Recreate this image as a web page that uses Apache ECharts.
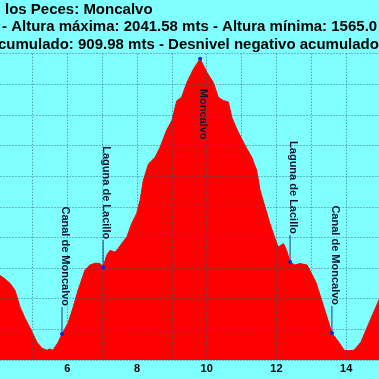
<!DOCTYPE html>
<html>
<head>
<meta charset="utf-8">
<script src="https://cdn.jsdelivr.net/npm/echarts@6/dist/echarts.min.js"></script>
<style>html,body{margin:0;padding:0;background:#80ffff;}#c{width:379px;height:379px;}</style>
</head>
<body>
<div id="c"></div>
<script>
// Title lines (visible portion)
const titleLines = [
  "los Peces: Moncalvo",
  "- Altura máxima: 2041.58 mts - Altura mínima: 1565.0",
  "cumulado: 909.98 mts - Desnivel negativo acumulado"
];
// Profile: distance (km) and altitude (m)
const distKm = [4.0, 4.07, 4.2, 4.36, 4.5, 4.65, 4.79, 4.99, 5.13, 5.28, 5.42, 5.5, 5.59, 5.74, 5.85, 6.02, 6.17, 6.31, 6.51, 6.65, 6.8, 6.94, 7.03, 7.13, 7.23, 7.37, 7.46, 7.56, 7.71, 7.85, 7.99, 8.09, 8.18, 8.33, 8.52, 8.66, 8.85, 9.0, 9.14, 9.28, 9.43, 9.62, 9.81, 10.0, 10.19, 10.33, 10.48, 10.62, 10.72, 10.86, 11.0, 11.15, 11.29, 11.43, 11.53, 11.67, 11.81, 11.96, 12.05, 12.2, 12.29, 12.39, 12.53, 12.67, 12.88, 13.13, 13.36, 13.59, 13.79, 13.94, 14.08, 14.22, 14.42, 14.65, 14.94, 15.0];
const altitude = [1690, 1688, 1683, 1675, 1664, 1636, 1618, 1596, 1579, 1569, 1566, 1568, 1566, 1579, 1592.3, 1610, 1636, 1664, 1697, 1705, 1708, 1707.5, 1701.5, 1721, 1729, 1726, 1732, 1740, 1751, 1773, 1789, 1811, 1843, 1870, 1881, 1897, 1925, 1941, 1973, 1979, 2003, 2025, 2041.58, 2020, 2003, 1979, 1973.5, 1971, 1946, 1927, 1911, 1895, 1881, 1860, 1827, 1800, 1773, 1748, 1734.5, 1740, 1729, 1710, 1705, 1707.5, 1705, 1677, 1636, 1594, 1579, 1566, 1565, 1566, 1579, 1610, 1648, 1656];
// Waypoints
const wpNames = ["Canal de Moncalvo", "Laguna de Lacillo", "Moncalvo", "Laguna de Lacillo", "Canal de Moncalvo"];
const wpKm = [5.85, 7.03, 9.81, 12.39, 13.59];
const wpAlt = [1592.3, 1701.5, 2041.58, 1710, 1594];
// Axis ticks
const xTickLabels = [6, 8, 10, 12, 14];

const maxAlt = Math.max.apply(null, wpAlt);
const chart = echarts.init(document.getElementById('c'), null, {renderer: 'canvas'});
const font = '"Liberation Sans", Arial, sans-serif';

chart.setOption({
  backgroundColor: '#80ffff',
  animation: false,
  grid: {left: -2.5, top: 53.7, width: 383.6, height: 306.3, outerBoundsMode: 'none', containLabel: false},
  xAxis: {
    type: 'value', min: 4, max: 15, interval: 1, z: 5,
    axisLine: {show: false}, axisTick: {show: false},
    axisLabel: {
      margin: 3, color: '#000', fontWeight: 'bold', fontSize: 11, fontFamily: font,
      formatter: v => xTickLabels.indexOf(v) >= 0 ? String(v) : ''
    },
    splitLine: {show: true, lineStyle: {color: '#1a5a8a', type: [1, 2], width: 1, opacity: 0.8}}
  },
  yAxis: {
    type: 'value', min: 1550, max: 2050, interval: 50, z: 5,
    axisLine: {show: false}, axisTick: {show: false}, axisLabel: {show: false},
    splitLine: {show: true, lineStyle: {color: '#1a5a8a', type: [1, 2], width: 1, opacity: 0.8}}
  },
  graphic: titleLines.map((t, i) => ({
    type: 'text', left: [5, 2, -2][i], top: [2, 19.5, 37][i],
    style: {text: t, fill: '#000', font: 'bold 15px ' + font}
  })),
  series: [
    {
      type: 'line', z: 2,
      data: distKm.map((d, i) => [d, altitude[i]]),
      showSymbol: false, smooth: false,
      lineStyle: {color: '#ff0000', width: 1},
      areaStyle: {color: '#ff0000', opacity: 1}
    },
    {
      type: 'custom', z: 10,
      data: wpKm.map((d, i) => [d, wpAlt[i], i]),
      renderItem: function (params, api) {
        const p = api.coord([api.value(0), api.value(1)]);
        const idx = api.value(2);
        const name = wpNames[idx];
        const below = wpAlt[idx] === maxAlt;
        const children = [];
        if (!below) {
          children.push({type: 'line', shape: {x1: p[0], y1: p[1], x2: p[0], y2: p[1] - 27},
            style: {stroke: '#1a3a8a', lineWidth: 1}});
        }
        children.push({type: 'circle', shape: {cx: p[0], cy: p[1], r: 2}, style: {fill: '#2020c0'}});
        children.push({
          type: 'text', x: p[0] + 3, y: below ? p[1] + 30 : p[1] - 28, rotation: -Math.PI / 2,
          style: {text: name, fill: '#101030', font: 'bold 11px ' + font,
            align: below ? 'left' : 'right', verticalAlign: 'middle'}
        });
        return {type: 'group', children: children};
      }
    }
  ]
});
</script>
</body>
</html>
